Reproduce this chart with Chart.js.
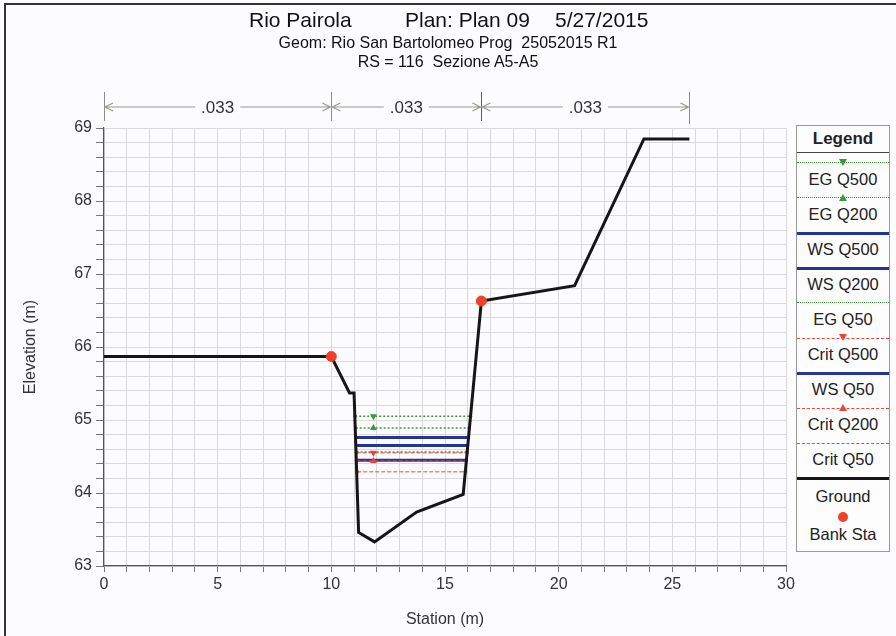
<!DOCTYPE html>
<html>
<head>
<meta charset="utf-8">
<script src="https://cdn.jsdelivr.net/npm/chart.js@4.4.1/dist/chart.umd.min.js"></script>
<style>
  body { margin: 0; width: 896px; height: 636px; background: #fcfcfe; font-family: Arial, "Liberation Sans", sans-serif; position: relative; overflow: hidden; }
  #frame { position: absolute; left: 4px; top: 3px; width: 900px; height: 640px; border-left: 2px solid #333; border-top: 2px solid #333; }
  #chart { position: absolute; left: 0; top: 0; }
  .ttl { position: absolute; color: #111; white-space: pre; }
  .sub { position: absolute; left: 0; width: 896px; text-align: center; color: #111; white-space: pre; font-size: 16px; }
  #legend { position: absolute; left: 796px; top: 125px; width: 94px; height: 427px; border: 1px solid #9a9a9a; background: #fdfdfe; box-sizing: border-box; }
  #legend .hd { position: absolute; left: 0; width: 100%; top: 3px; text-align: center; font-weight: bold; font-size: 17px; color: #222; }
  #legend .sep { position: absolute; left: 0; width: 100%; top: 26px; border-top: 1.5px solid #444; }
  #legend .lab { position: absolute; left: 0; width: 100%; text-align: center; font-size: 16.5px; color: #222; line-height: 18px; }
  #legend .smp { position: absolute; left: 0; width: 100%; height: 0; }
  #legend .mk { position: absolute; left: 50%; width: 0; height: 0; border-left: 4px solid transparent; border-right: 4px solid transparent; margin-left: -4px; }
</style>
</head>
<body>
<div id="frame"></div>
<canvas id="chart" width="896" height="636"></canvas>
<div class="ttl" style="top:8px;left:249px;font-size:21px;">Rio Pairola</div>
<div class="ttl" style="top:8px;left:405px;font-size:21px;">Plan: Plan 09</div>
<div class="ttl" style="top:8px;left:555px;font-size:21px;">5/27/2015</div>
<div class="sub" style="top:34px;">Geom: Rio San Bartolomeo Prog  25052015 R1</div>
<div class="sub" style="top:53px;">RS = 116  Sezione A5-A5</div>
<div id="legend"></div>
<script>
// ground profile
const groundStation = [0, 10.0, 10.8, 11.0, 11.2, 11.9, 13.75, 15.8, 16.6, 20.7, 23.75, 25.75];
const groundElev = [65.87, 65.87, 65.37, 65.37, 63.46, 63.33, 63.74, 63.98, 66.63, 66.84, 68.85, 68.85];

// bank stations
const bankStation = [10.0, 16.6];
const bankElev = [65.87, 66.63];

// water surface / energy / critical profiles (legend order)
const profileNames = ['EG Q500', 'EG Q200', 'WS Q500', 'WS Q200', 'EG Q50', 'Crit Q500', 'WS Q50', 'Crit Q200', 'Crit Q50'];
const profileElev = [65.05, 64.89, 64.76, 64.65, 64.56, 64.55, 64.45, 64.44, 64.29];
const profileLeft = [11.05, 11.07, 11.09, 11.10, 11.11, 11.11, 11.12, 11.12, 11.14];
const profileRight = [16.12, 16.07, 16.03, 16.00, 15.97, 15.97, 15.94, 15.94, 15.89];
const markerStation = 11.85;

// manning n bar
const roughStation = [0, 10.0, 16.6, 25.75];
const roughValues = ['.033', '.033', '.033'];

const xTicks = [0, 5, 10, 15, 20, 25, 30];
const yTicks = [63, 64, 65, 66, 67, 68, 69];

const FONT = 'Arial, "Liberation Sans", sans-serif';

function styleFor(name) {
    if (name.startsWith('EG')) return { color: '#3c9a3c', width: 1.5, dash: [2, 2], order: 3 };
    if (name.startsWith('WS')) return { color: '#22369a', width: 3, dash: [], order: 2 };
    return { color: '#e8453a', width: 1, dash: [4, 2], order: 1 };
}
function markerFor(name) {
    if (name.endsWith('Q500') && !name.startsWith('WS')) return 'down';
    if (name.endsWith('Q200') && !name.startsWith('WS')) return 'up';
    return null;
}

const datasets = [];
datasets.push({
    label: 'Ground',
    data: groundStation.map((s, i) => ({ x: s, y: groundElev[i] })),
    showLine: true,
    borderColor: '#161616',
    borderWidth: 3,
    pointRadius: 0,
    order: 0
});
datasets.push({
    label: 'Bank Sta',
    data: bankStation.map((s, i) => ({ x: s, y: bankElev[i] })),
    showLine: false,
    backgroundColor: '#f0402a',
    borderColor: '#f0402a',
    pointRadius: 5,
    order: -1
});
profileNames.forEach((name, i) => {
    const st = styleFor(name);
    const mk = markerFor(name);
    const isWS = name.startsWith('WS');
    datasets.push({
        label: name,
        data: [
            { x: profileLeft[i], y: profileElev[i] },
            { x: markerStation, y: profileElev[i] },
            { x: profileRight[i], y: profileElev[i] }
        ],
        showLine: true,
        borderColor: st.color,
        backgroundColor: st.color,
        borderWidth: st.width,
        borderDash: st.dash,
        pointStyle: ctx => ctx.dataIndex === 1 ? 'triangle' : 'circle',
        rotation: ctx => (ctx.dataIndex === 1 && mk === 'down') ? 180 : 0,
        pointRadius: ctx => ctx.dataIndex === 1 ? (mk ? 4 : 0) : (isWS ? 0 : 1.8),
        pointBorderWidth: 0,
        order: st.order
    });
});

const roughBar = {
    id: 'roughBar',
    afterDraw(chart) {
        const ctx = chart.ctx;
        const xs = chart.scales.x;
        const y = 107;
        ctx.save();
        ctx.font = '17px ' + FONT;
        ctx.textAlign = 'center';
        ctx.textBaseline = 'middle';
        roughStation.forEach((s, i) => {
            const px = Math.round(xs.getPixelForValue(s)) + 0.5;
            ctx.strokeStyle = (i === 2) ? '#a8384a' : '#8c8c8c';
            ctx.lineWidth = 1;
            ctx.beginPath();
            ctx.moveTo(px, 92);
            ctx.lineTo(px, i === 3 ? 124 : 121);
            ctx.stroke();
        });
        roughValues.forEach((v, i) => {
            const x0 = xs.getPixelForValue(roughStation[i]);
            const x1 = xs.getPixelForValue(roughStation[i + 1]);
            const mid = (x0 + x1) / 2;
            const tw = ctx.measureText(v).width;
            ctx.strokeStyle = '#9a9a8e';
            ctx.lineWidth = 1.2;
            ctx.beginPath();
            ctx.moveTo(x0 + 1, y); ctx.lineTo(mid - tw / 2 - 6, y);
            ctx.moveTo(mid + tw / 2 + 6, y); ctx.lineTo(x1 - 1, y);
            ctx.moveTo(x0 + 9, y - 4); ctx.lineTo(x0 + 1, y); ctx.lineTo(x0 + 9, y + 4);
            ctx.moveTo(x1 - 9, y - 4); ctx.lineTo(x1 - 1, y); ctx.lineTo(x1 - 9, y + 4);
            ctx.stroke();
            ctx.fillStyle = '#333';
            ctx.fillText(v, mid, y + 1);
        });
        ctx.restore();
    }
};

const near = (v, arr) => arr.some(t => Math.abs(v - t) < 1e-6);

new Chart(document.getElementById('chart'), {
    type: 'scatter',
    data: { datasets },
    options: {
        responsive: false,
        animation: false,
        devicePixelRatio: 1,
        events: [],
        layout: { padding: { left: 8, right: 110, top: 128, bottom: 0 } },
        plugins: { legend: { display: false }, tooltip: { enabled: false } },
        scales: {
            x: {
                type: 'linear',
                min: 0,
                max: 30,
                afterFit: s => { s.height = 70; },
                ticks: {
                    stepSize: 1,
                    autoSkip: false,
                    maxRotation: 0,
                    padding: 3,
                    color: '#333',
                    font: { size: 16, family: FONT },
                    callback: v => near(v, xTicks) ? String(v) : ''
                },
                grid: { color: '#dadade', tickColor: '#777', tickLength: 6 },
                border: { color: '#555', width: 1.2 },
                title: {
                    display: true,
                    text: 'Station (m)',
                    color: '#333',
                    padding: { top: 7, bottom: 7 },
                    font: { size: 16, family: FONT }
                }
            },
            y: {
                type: 'linear',
                min: 63,
                max: 69,
                afterFit: s => { s.width = 96; },
                afterBuildTicks: s => {
                    const t = [];
                    for (let k = 0; k <= 30; k++) t.push({ value: 63 + k * 0.2 });
                    s.ticks = t;
                },
                ticks: {
                    autoSkip: false,
                    padding: 4,
                    color: '#333',
                    font: { size: 16, family: FONT },
                    callback: v => near(v, yTicks) ? String(Math.round(v)) : ''
                },
                grid: { color: '#dadade', tickColor: '#777', tickLength: 8 },
                border: { color: '#555', width: 1.2 },
                title: {
                    display: true,
                    text: 'Elevation (m)',
                    color: '#333',
                    padding: { top: 13, bottom: 13 },
                    font: { size: 16, family: FONT }
                }
            }
        }
    },
    plugins: [roughBar]
});

// legend box
const lg = document.getElementById('legend');
lg.innerHTML = '<div class="hd">Legend</div><div class="sep"></div>';
const pitch = 35;
const firstSample = 37;
profileNames.forEach((name, i) => {
    const st = styleFor(name);
    const mk = markerFor(name);
    const sy = firstSample + pitch * i;
    const smp = document.createElement('div');
    smp.className = 'smp';
    smp.style.top = (sy - st.width / 2) + 'px';
    const bstyle = name.startsWith('EG') ? 'dotted' : (name.startsWith('WS') ? 'solid' : 'dashed');
    smp.style.borderTop = Math.max(1, st.width) + 'px ' + bstyle + ' ' + st.color;
    lg.appendChild(smp);
    if (mk) {
        const m = document.createElement('div');
        m.className = 'mk';
        m.style.top = (sy - 4) + 'px';
        if (mk === 'down') m.style.borderTop = '7px solid ' + st.color;
        else m.style.borderBottom = '7px solid ' + st.color;
        lg.appendChild(m);
    }
    const lab = document.createElement('div');
    lab.className = 'lab';
    lab.style.top = (sy + 16 - 9) + 'px';
    lab.textContent = name;
    lg.appendChild(lab);
});
// ground and bank station entries
const gy = firstSample + pitch * profileNames.length;
const gs = document.createElement('div');
gs.className = 'smp';
gs.style.top = (gy - 1.5) + 'px';
gs.style.borderTop = '3px solid #161616';
lg.appendChild(gs);
const gl = document.createElement('div');
gl.className = 'lab';
gl.style.top = (gy + 18 - 9) + 'px';
gl.textContent = 'Ground';
lg.appendChild(gl);
const dot = document.createElement('div');
dot.style.cssText = 'position:absolute;left:50%;margin-left:-5px;width:10px;height:10px;border-radius:5px;background:#f0402a;top:' + (gy + 34) + 'px';
lg.appendChild(dot);
const bl = document.createElement('div');
bl.className = 'lab';
bl.style.top = (gy + 56 - 9) + 'px';
bl.textContent = 'Bank Sta';
lg.appendChild(bl);
</script>
</body>
</html>
